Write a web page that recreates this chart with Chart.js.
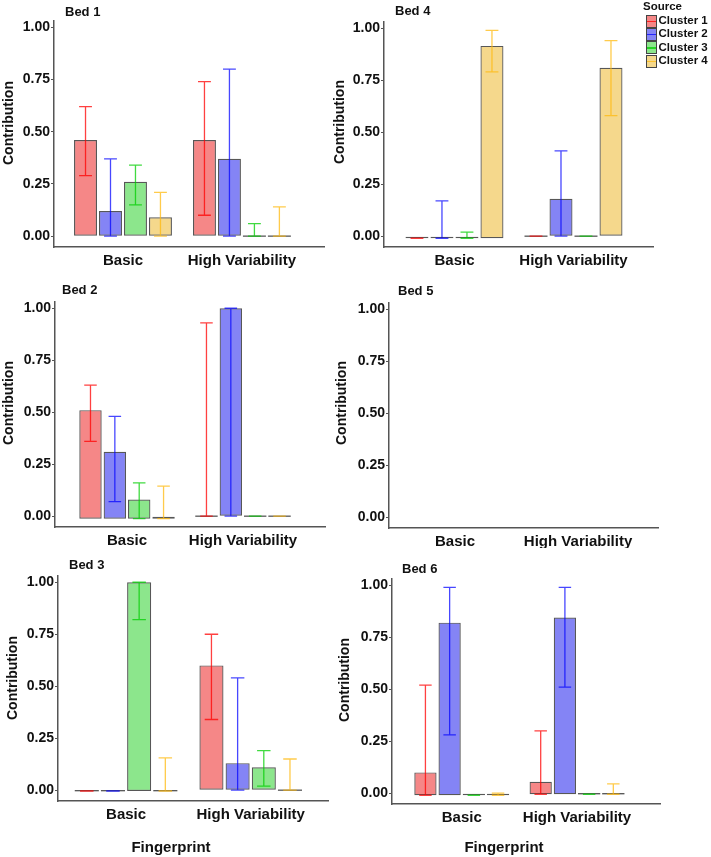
<!DOCTYPE html>
<html>
<head>
<meta charset="utf-8">
<script src="https://cdn.jsdelivr.net/npm/chart.js@4/dist/chart.umd.min.js"></script>
<style>
  body { margin: 0; width: 711px; height: 857px; position: relative; background: #fff; overflow: hidden;
         font-family: "Liberation Sans", Arial, sans-serif; font-weight: bold; color: #111; }
  .panel { position: absolute; overflow: hidden; }
  .panel canvas { position: absolute; left: 0; top: 0; }
  .txt { position: absolute; white-space: nowrap; line-height: 1; }
  .key { position: absolute; width: 11px; height: 13px; box-sizing: border-box; border: 1px solid #444; }
  .key i { position: absolute; left: 0; right: 0; top: 5px; height: 1.4px; }
</style>
</head>
<body>
<script>
const groups = ["Basic", "High Variability"];
const clusters = ["Cluster 1", "Cluster 2", "Cluster 3", "Cluster 4"];
const yTicks = [0, 0.25, 0.5, 0.75, 1];

// values per bed: [cluster][group], base = where the bars start for each group
const bed1Mean = [[0.46, 0.46], [0.12, 0.37], [0.26, 0], [0.09, 0]];
const bed1Low = [[0.29, 0.10], [0, 0], [0.15, 0], [0, 0]];
const bed1High = [[0.62, 0.74], [0.37, 0.80], [0.34, 0.06], [0.21, 0.14]];
const bed1Base = [0, 0];

const bed2Mean = [[0.51, 0], [0.31, 1.0], [0.08, 0], [0, 0]];
const bed2Low = [[0.36, 0], [0.07, 0], [-0.012, 0], [-0.012, 0]];
const bed2High = [[0.63, 0.93], [0.48, 1.0], [0.16, 0], [0.145, 0]];
const bed2Base = [-0.012, 0];

const bed3Mean = [[0, 0.60], [0, 0.13], [1.0, 0.11], [0, 0]];
const bed3Low = [[-0.004, 0.34], [-0.004, 0], [0.82, 0.02], [-0.004, 0]];
const bed3High = [[-0.004, 0.75], [-0.004, 0.54], [1.0, 0.19], [0.155, 0.15]];
const bed3Base = [-0.004, 0];

const bed4Mean = [[0, 0], [0, 0.18], [0, 0], [0.915, 0.81]];
const bed4Low = [[-0.01, 0], [-0.01, 0], [-0.01, 0], [0.79, 0.58]];
const bed4High = [[-0.01, 0], [0.17, 0.41], [0.02, 0], [0.99, 0.94]];
const bed4Base = [-0.01, 0];

const bed5Mean = [[], [], [], []];
const bed5Low = [[], [], [], []];
const bed5High = [[], [], [], []];
const bed5Base = [0, 0];

const bed6Mean = [[0.10, 0.055], [0.82, 0.845], [0, 0], [0, 0]];
const bed6Low = [[-0.01, -0.005], [0.28, 0.51], [-0.01, -0.005], [-0.01, -0.005]];
const bed6High = [[0.52, 0.30], [0.99, 0.99], [-0.01, -0.005], [0, 0.045]];
const bed6Base = [-0.01, -0.005];

const fillColors = ["rgba(235,15,15,0.5)", "rgba(10,10,235,0.5)", "rgba(25,205,25,0.5)", "rgba(235,178,25,0.5)"];
const errColors = ["rgba(255,0,0,0.75)", "rgba(0,0,255,0.72)", "rgba(0,205,0,0.75)", "rgba(255,185,15,0.75)"];
const outline = "rgba(45,45,45,0.8)";

Chart.defaults.font.family = "'Liberation Sans', Arial, sans-serif";

// layout of each panel (page pixels): box = container, area = plot area, xr = x range, yt = y title centre
const panels = [
  { name: "Bed 1", mean: bed1Mean, low: bed1Low, high: bed1High, base: bed1Base,
    box: [0, 0, 330, 269], area: [54, 21, 324, 247], xr: [0.42, 2.69], title: [65, 11], yt: [7.5, 122.5] },
  { name: "Bed 4", mean: bed4Mean, low: bed4Low, high: bed4High, base: bed4Base,
    box: [328, 0, 383, 269], area: [384, 22, 653, 247], xr: [0.408, 2.668], title: [395, 9.5], yt: [339, 122] },
  { name: "Bed 2", mean: bed2Mean, low: bed2Low, high: bed2High, base: bed2Base,
    box: [0, 270, 330, 278], area: [55, 302, 325, 527], xr: [0.379, 2.707], title: [62, 289], yt: [7.5, 402.5] },
  { name: "Bed 5", mean: bed5Mean, low: bed5Low, high: bed5High, base: bed5Base,
    box: [328, 270, 383, 278], area: [389, 303, 658, 528], xr: [0.463, 2.65], title: [398, 290], yt: [341, 402.5] },
  { name: "Bed 3", mean: bed3Mean, low: bed3Low, high: bed3High, base: bed3Base,
    box: [0, 559, 330, 298], area: [58, 576, 328, 801], xr: [0.454, 2.62], title: [69, 564], yt: [11.5, 677.5], xTitle: 171 },
  { name: "Bed 6", mean: bed6Mean, low: bed6Low, high: bed6High, base: bed6Base,
    box: [328, 558, 383, 299], area: [392, 579, 660, 804], xr: [0.395, 2.72], title: [402, 567.5], yt: [344, 679.5], xTitle: 504 }
];

const errorBars = {
  id: "errorBars",
  afterDatasetsDraw(chart) {
    const ctx = chart.ctx;
    const yScale = chart.scales.y;
    chart.data.datasets.forEach((ds, i) => {
      chart.getDatasetMeta(i).data.forEach((bar, j) => {
        const { x, y, base, width } = bar.getProps(["x", "y", "base", "width"], true);
        ctx.save();
        ctx.lineWidth = 1.3;
        if (Math.abs(base - y) < 1.5) {
          // empty bar: only its outline shows as a flat line
          ctx.strokeStyle = outline;
          ctx.beginPath();
          ctx.moveTo(x - width / 2, base);
          ctx.lineTo(x + width / 2, base);
          ctx.stroke();
        }
        const lo = yScale.getPixelForValue(ds.errLow[j]);
        const hi = yScale.getPixelForValue(ds.errHigh[j]);
        const cap = width * 0.28;
        ctx.strokeStyle = ds.errColor;
        ctx.beginPath();
        ctx.moveTo(x, lo); ctx.lineTo(x, hi);
        ctx.moveTo(x - cap, lo); ctx.lineTo(x + cap, lo);
        ctx.moveTo(x - cap, hi); ctx.lineTo(x + cap, hi);
        ctx.stroke();
        ctx.restore();
      });
    });
  }
};

function addText(parent, text, x, y, size, transform) {
  const d = document.createElement("div");
  d.className = "txt";
  d.textContent = text;
  d.style.left = x + "px";
  d.style.top = y + "px";
  d.style.fontSize = size + "px";
  d.style.transform = transform;
  parent.appendChild(d);
  return d;
}

panels.forEach(p => {
  const [left, top, w, h] = p.box;
  const [L, T, R, B] = p.area;
  const box = document.createElement("div");
  box.className = "panel";
  box.style.left = left + "px";
  box.style.top = top + "px";
  box.style.width = w + "px";
  box.style.height = h + "px";
  document.body.appendChild(box);

  const canvas = document.createElement("canvas");
  canvas.width = w;
  canvas.height = h;
  box.appendChild(canvas);

  addText(box, p.name, p.title[0] - left, p.title[1] - top, 13, "translateY(-50%)");
  addText(box, "Contribution", p.yt[0] - left, p.yt[1] - top, 14, "translate(-50%,-50%) rotate(-90deg)");
  if (p.xTitle) addText(document.body, "Fingerprint", p.xTitle, 845.5, 15, "translate(-50%,-50%)");

  new Chart(canvas, {
    type: "bar",
    data: {
      datasets: clusters.map((name, c) => ({
        label: name,
        data: p.mean[c].map((v, g) => ({ x: g + 1, y: [p.base[g], v] })),
        backgroundColor: fillColors[c],
        borderColor: outline,
        borderWidth: 1.2,
        borderSkipped: false,
        categoryPercentage: 0.84,
        barPercentage: 0.92,
        errLow: p.low[c],
        errHigh: p.high[c],
        errColor: errColors[c]
      }))
    },
    options: {
      responsive: false,
      animation: false,
      events: [],
      layout: { padding: { left: 0, top: T - top, right: left + w - R, bottom: 0 } },
      plugins: { legend: { display: false }, tooltip: { enabled: false } },
      scales: {
        x: {
          type: "linear",
          min: p.xr[0],
          max: p.xr[1],
          offset: false,
          grid: { display: false, drawTicks: false, tickLength: 0 },
          border: { display: true, color: "#555", width: 1.5 },
          ticks: {
            padding: 5, autoSkip: false, maxRotation: 0, color: "#111",
            font: { size: 15, weight: "bold" },
            callback: v => groups[v - 1] || ""
          },
          afterBuildTicks: s => { s.ticks = groups.map((g, i) => ({ value: i + 1 })); },
          afterFit: s => { s.height = top + h - B; }
        },
        y: {
          min: -0.052,
          max: 1.03,
          grid: { display: true, drawOnChartArea: false, drawTicks: true, tickLength: 3, color: "#555" },
          border: { display: true, color: "#555", width: 1.5 },
          ticks: {
            padding: 1, color: "#111",
            font: { size: 14, weight: "bold" },
            callback: v => v.toFixed(2)
          },
          afterBuildTicks: s => { s.ticks = yTicks.map(v => ({ value: v })); },
          afterFit: s => { s.width = L - left; }
        }
      }
    },
    plugins: [errorBars]
  });
});

// shared legend
addText(document.body, "Source", 643, 6.5, 11.5, "translateY(-50%)");
clusters.forEach((name, c) => {
  const cy = 21 + c * 13.4;
  const k = document.createElement("div");
  k.className = "key";
  k.style.left = "646px";
  k.style.top = (cy - 6.5) + "px";
  k.style.background = fillColors[c];
  const line = document.createElement("i");
  line.style.background = errColors[c];
  k.appendChild(line);
  document.body.appendChild(k);
  addText(document.body, name, 658.5, cy, 11.5, "translateY(-50%)");
});
</script>
</body>
</html>
